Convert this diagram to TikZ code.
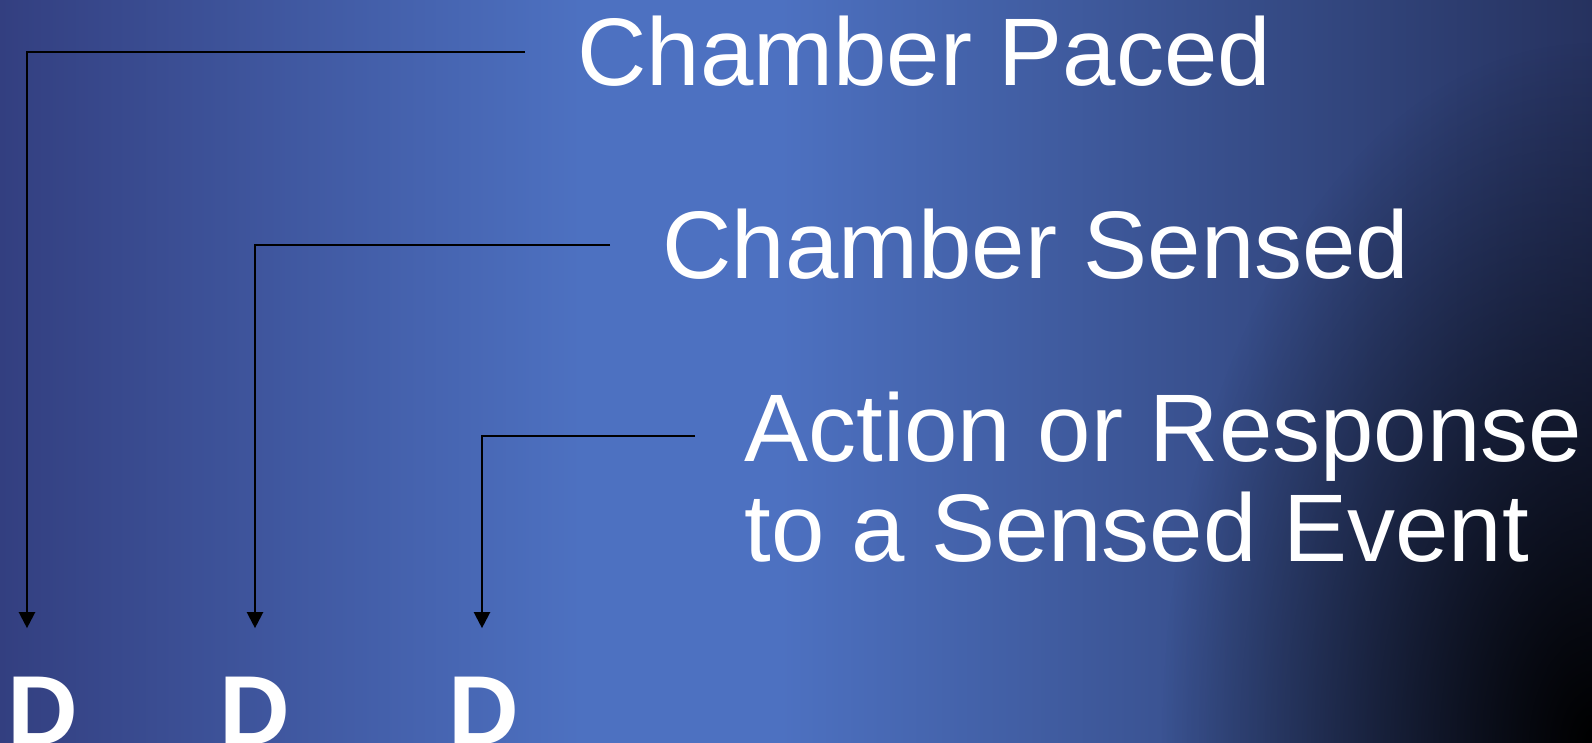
\documentclass[tikz,border=0pt]{standalone}
\usepackage{fontspec}
\setmainfont{Liberation Sans}
\usetikzlibrary{arrows.meta,fadings}
\definecolor{bnavy}{HTML}{333F80}
\definecolor{blight}{HTML}{4D71C1}
\definecolor{bdark}{HTML}{26325F}
\tikzfading[name=cornerfade, inner color=transparent!0, outer color=transparent!100]

\begin{document}
\begin{tikzpicture}[x=0.5pt, y=-0.5pt, line cap=butt,
  label/.style={white, inner sep=0pt, anchor=base west, font=\fontsize{48}{50}\selectfont},
  dlabel/.style={white, inner sep=0pt, anchor=base, font=\fontsize{49}{52}\selectfont\bfseries},
  link/.style={black, line width=1.1pt, shorten >=24pt, -{Triangle[length=8pt, width=8pt]}}]
  \def\W{1592}
  \def\H{743}
  % background
  \useasboundingbox (0,0) rectangle (\W,\H);
  \shade[left color=bnavy, right color=blight] (0,0) rectangle (581,\H);
  \fill[blight] (580,0) rectangle (781,\H);
  \shade[left color=blight, right color=bdark] (780,0) rectangle (\W,\H);
  \fill[black, path fading=cornerfade] (\W,\H) ellipse (430 and 700);
  % labels
  \node[label] (paced)  at (577,86)  {Chamber Paced};
  \node[label] (sensed) at (662,279) {Chamber Sensed};
  \node[label] (action) at (744,461) {Action or Response};
  \node[label] (event)  at (744,561) {to a Sensed Event};
  % D markers
  \node[dlabel] (d1) at (43,744)  {D};
  \node[dlabel] (d2) at (255,744) {D};
  \node[dlabel] (d3) at (484,744) {D};
  % connectors
  \draw[link] ([xshift=-26pt]paced.west) -| ([xshift=-8pt]d1.north);
  \draw[link] ([xshift=-26pt]sensed.west) -| (d2.north);
  \draw[link] ([xshift=-24.5pt]action.west) -| ([xshift=-1pt]d3.north);
\end{tikzpicture}
\end{document}
